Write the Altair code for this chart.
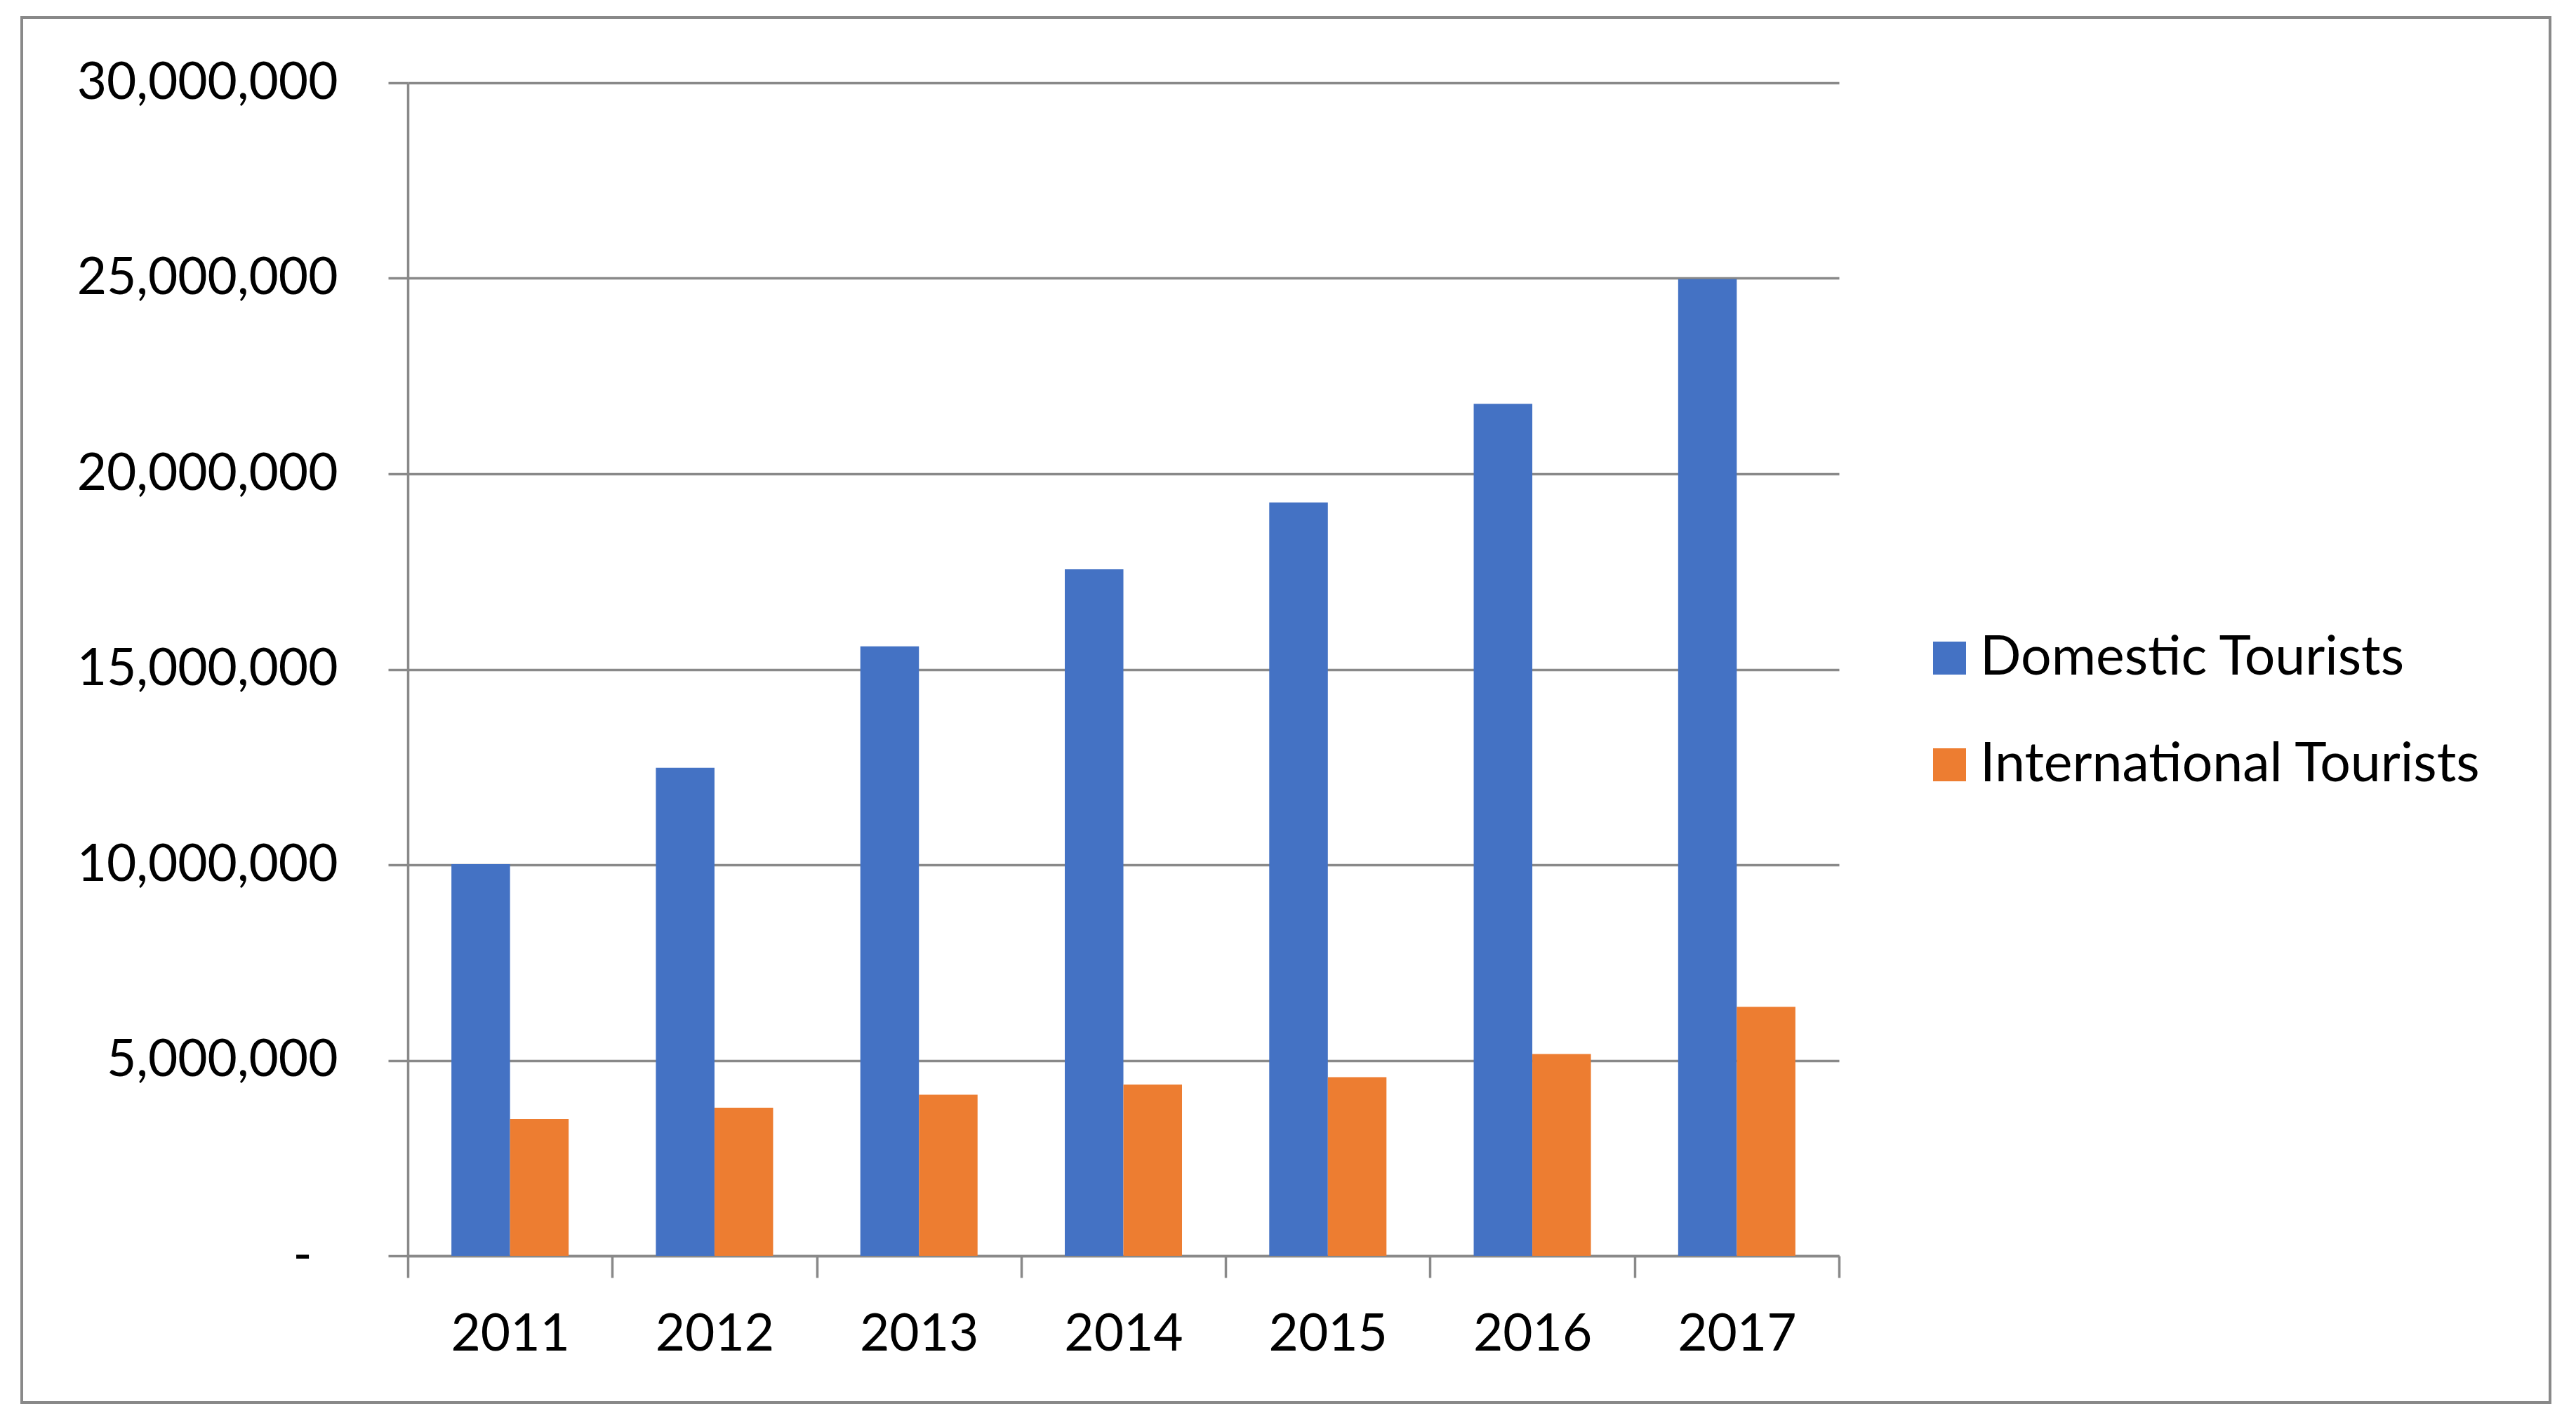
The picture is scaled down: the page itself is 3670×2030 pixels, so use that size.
import altair as alt
import pandas as pd

years = ["2011", "2012", "2013", "2014", "2015", "2016", "2017"]
series = ["Domestic Tourists", "International Tourists"]
domestic = [10020000, 12480000, 15590000, 17560000, 19270000, 21790000, 24980000]
international = [3500000, 3790000, 4120000, 4380000, 4570000, 5160000, 6370000]
colors = ["#4472C4", "#ED7D31"]
y_ticks = [0, 5000000, 10000000, 15000000, 20000000, 25000000, 30000000]

rows = []
for i, yr in enumerate(years):
    rows.append({"Year": yr, "Series": series[0], "Value": domestic[i]})
    rows.append({"Year": yr, "Series": series[1], "Value": international[i]})
df = pd.DataFrame(rows)

GRAY = "#898989"
FONT = "Lato"
FS = 73

bars = alt.Chart(df).mark_bar().encode(
    x=alt.X(
        "Year:N",
        sort=years,
        scale=alt.Scale(paddingInner=0, paddingOuter=0),
        axis=alt.Axis(
            title=None,
            tickBand="extent",
            labelAngle=0,
            tickSize=31,
            labelPadding=45,
            grid=False,
        ),
    ),
    xOffset=alt.XOffset(
        "Series:N", sort=series, scale=alt.Scale(paddingInner=0, paddingOuter=0.744)
    ),
    y=alt.Y(
        "Value:Q",
        scale=alt.Scale(domain=[0, 30000000], nice=False),
        axis=alt.Axis(
            title=None,
            values=y_ticks,
            labelExpr="datum.value == 0 ? '-' : format(datum.value, ',')",
            tickSize=28,
            labelPadding={"condition": {"test": "datum.value == 0", "value": 109}, "value": 72},
            grid=True,
        ),
    ),
    color=alt.Color(
        "Series:N",
        sort=series,
        scale=alt.Scale(domain=series, range=colors),
        legend=alt.Legend(
            title=None,
            orient="none",
            legendX=2158,
            legendY=781,
            symbolType="square",
            symbolSize=2209,
            symbolStrokeWidth=0,
            labelFont=FONT,
            labelFontSize=77,
            labelColor="black",
            labelOffset=5,
            rowPadding=74,
            padding=0,
            labelLimit=2000,
        ),
    ),
)

frame = alt.Chart(pd.DataFrame({"f": [0]})).mark_rect(
    fillOpacity=0, stroke=GRAY, strokeWidth=4
).encode(
    x=alt.value(-550), x2=alt.value(3052), y=alt.value(-93), y2=alt.value(1880)
)

chart = alt.layer(frame, bars).properties(
    width=2039,
    height=1671,
    padding={"left": 21, "top": 15, "right": 5, "bottom": 5},
    background="white",
).configure_view(stroke=None).configure_axis(
    labelFont=FONT,
    labelFontSize=FS,
    labelColor="black",
    labelLimit=2000,
    domainColor=GRAY,
    domainWidth=3.5,
    tickColor=GRAY,
    tickWidth=3.5,
    gridColor=GRAY,
    gridWidth=3.5,
)

chart.save("out.html", embed_options={"renderer": "svg", "actions": False})
